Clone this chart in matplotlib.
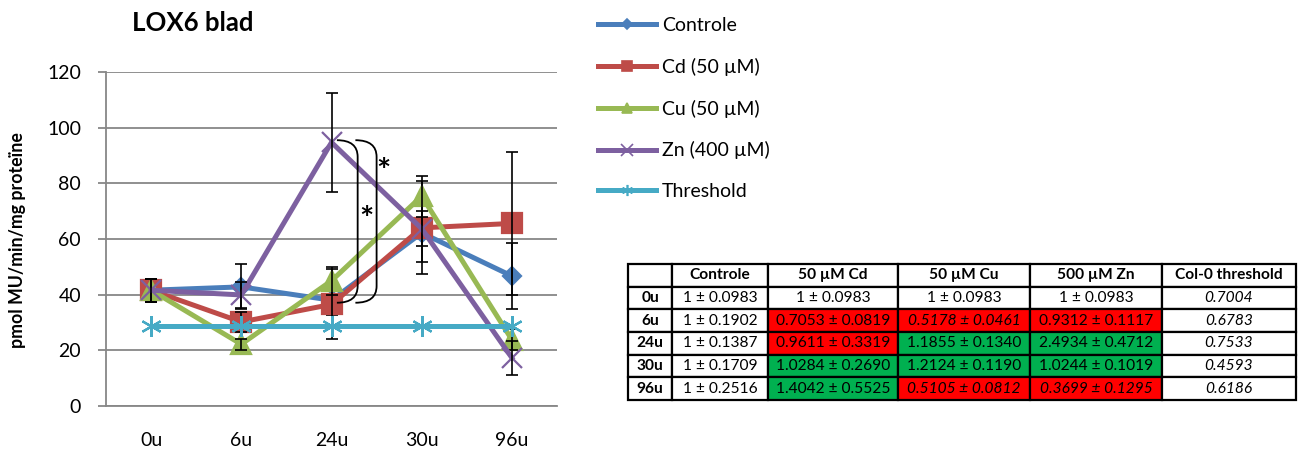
import matplotlib.pyplot as plt
from matplotlib.path import Path
from matplotlib.patches import PathPatch
from matplotlib.lines import Line2D

plt.rcParams['font.family'] = ['Lato', 'DejaVu Sans']

# LOX6 activiteit in blad (pmol MU/min/mg proteine)
tijden = ['0u', '6u', '24u', '30u', '96u']
controle = [41.6, 42.8, 38.0, 62.2, 46.7]
controle_err = [4.1, 8.1, 5.3, 10.6, 11.7]
cd = [41.6, 30.2, 36.5, 64.0, 65.6]
cd_err = [4.1, 3.5, 12.6, 16.7, 25.8]
cu = [41.6, 22.2, 45.0, 75.4, 23.8]
cu_err = [4.1, 2.0, 5.1, 7.4, 3.8]
zn = [41.6, 39.9, 94.7, 63.7, 17.3]
zn_err = [4.1, 4.8, 17.9, 6.3, 6.0]
threshold = [28.8, 28.8, 28.8, 28.8, 28.8]

# relatieve expressie t.o.v. controle
tabel_kop = ['', 'Controle', '50 µM Cd', '50 µM Cu', '500 µM Zn', 'Col-0 threshold']
tabel_controle = ['1 ± 0.0983', '1 ± 0.1902', '1 ± 0.1387', '1 ± 0.1709', '1 ± 0.2516']
tabel_cd = ['1 ± 0.0983', '0.7053 ± 0.0819', '0.9611 ± 0.3319', '1.0284 ± 0.2690', '1.4042 ± 0.5525']
tabel_cu = ['1 ± 0.0983', '0.5178 ± 0.0461', '1.1855 ± 0.1340', '1.2124 ± 0.1190', '0.5105 ± 0.0812']
tabel_zn = ['1 ± 0.0983', '0.9312 ± 0.1117', '2.4934 ± 0.4712', '1.0244 ± 0.1019', '0.3699 ± 0.1295']
tabel_threshold = ['0.7004', '0.6783', '0.7533', '0.4593', '0.6186']
# + = hoger, - = lager, 0 = niet getest; i = onder threshold (cursief)
status_cd = ['0', '-', '-', '+', '+']
status_cu = ['0', '-i', '+', '+', '-i']
status_zn = ['0', '-', '+', '+', '-i']

fig = plt.figure(figsize=(13.04, 4.54), dpi=100)
ax = fig.add_axes([106 / 1304, 48 / 454, 451 / 1304, 334 / 454])

x = list(range(len(tijden)))
series = [
    ('Controle', controle, controle_err, '#4A7EBB', 'D', 9.5),
    ('Cd (50 µM)', cd, cd_err, '#BE4B48', 's', 14),
    ('Cu (50 µM)', cu, cu_err, '#98B954', '^', 14),
    ('Zn (400 µM)', zn, zn_err, '#7D60A0', 'x', 15),
]
handles = []
z = 3
for naam, waarden, fout, kleur, marker, ms in series:
    ax.plot(x, waarden, color=kleur, lw=3.6, marker=marker, ms=ms,
            mfc=kleur, mec=kleur, mew=1.6, zorder=z)
    ax.errorbar(x, waarden, yerr=fout, fmt='none', ecolor='black',
                elinewidth=1.2, capsize=4, capthick=1.2, zorder=z + 0.5)
    handles.append(Line2D([], [], color=kleur, lw=3.6, marker=marker,
                          ms=ms * 0.55, mfc=kleur, mec=kleur, mew=1.2))
    z += 1
ax.plot(x, threshold, color='#46AAC5', lw=3.6, marker=(6, 2, 0), ms=15,
        mec='#46AAC5', mew=1.6, zorder=z)
handles.append(Line2D([], [], color='#46AAC5', lw=3.6, marker=(6, 2, 0),
                      ms=8, mec='#46AAC5', mew=1.2))

# significantie-accolades bij 24u
def accolade(x0, x1, ytop, ybot, r):
    verts = [(x0, ytop), (x1, ytop), (x1, ytop - r),
             (x1, ybot + r), (x1, ybot), (x0, ybot)]
    codes = [Path.MOVETO, Path.CURVE3, Path.CURVE3,
             Path.LINETO, Path.CURVE3, Path.CURVE3]
    ax.add_patch(PathPatch(Path(verts, codes), fill=False, lw=1.3,
                           ec='black', zorder=10))

accolade(2.06, 2.29, 95.5, 37.1, 6)
accolade(2.265, 2.50, 95.5, 37.1, 6)
ax.text(2.387, 66.5, '*', fontsize=24, fontweight='bold', ha='center', va='center', zorder=10)
ax.text(2.578, 84.0, '*', fontsize=24, fontweight='bold', ha='center', va='center', zorder=10)

ax.set_xlim(-0.5, 4.5)
ax.set_ylim(0, 120)
ax.set_yticks(range(0, 121, 20))
ax.set_xticks(x)
ax.set_xticklabels(tijden)
ax.yaxis.grid(True, color='#878787', lw=1.3)
ax.set_axisbelow(True)
for s in ['top', 'right']:
    ax.spines[s].set_visible(False)
ax.spines['left'].set_color('#878787')
ax.spines['left'].set_linewidth(1.3)
ax.spines['bottom'].set_color('#878787')
ax.spines['bottom'].set_linewidth(1.3)
ax.tick_params(axis='y', length=6, width=1.3, color='#878787', pad=12, labelsize=14)
ax.tick_params(axis='x', length=0, pad=19, labelsize=14)

fig.text(193 / 1304, 1 - 23 / 454, 'LOX6 blad', fontsize=18.5, fontweight='bold',
         ha='center', va='center')
fig.text(18 / 1304, 1 - 240 / 454, 'pmol MU/min/mg proteïne', fontsize=12.8,
         fontweight='bold', rotation=90, ha='center', va='center')

fig.legend(handles, [s[0] for s in series] + ['Threshold'], loc='upper left',
           bbox_to_anchor=(598 / 1304, 1 - 17 / 454), frameon=False, fontsize=14,
           handlelength=3.0, handletextpad=0.3, labelspacing=1.22,
           borderpad=0, borderaxespad=0)

# tabel
kleuren = {'0': 'white', '+': '#00B050', '-': '#FF0000'}
rijen = [tabel_kop]
cel_kleur = [['white'] * 6]
for i, t in enumerate(tijden):
    rijen.append([t, tabel_controle[i], tabel_cd[i], tabel_cu[i], tabel_zn[i], tabel_threshold[i]])
    cel_kleur.append(['white', 'white', kleuren[status_cd[i][0]],
                      kleuren[status_cu[i][0]], kleuren[status_zn[i][0]], 'white'])

tax = fig.add_axes([628 / 1304, 54 / 454, 668 / 1304, 136 / 454])
tax.axis('off')
breedtes = [44, 96, 130, 132, 132, 134]
tab = tax.table(cellText=rijen, cellColours=cel_kleur, cellLoc='center',
                colWidths=[b / sum(breedtes) for b in breedtes], bbox=[0, 0, 1, 1])
tab.auto_set_font_size(False)
tab.set_fontsize(11.2)
for (r, c), cel in tab.get_celld().items():
    cel.set_edgecolor('black')
    cel.set_linewidth(1.6)
    tekst = cel.get_text()
    if r == 0 or c == 0:
        tekst.set_fontweight('bold')
    if r > 0 and c == 5:
        tekst.set_style('italic')
    if r > 0 and c in (2, 3, 4):
        st = [status_cd, status_cu, status_zn][c - 2][r - 1]
        if 'i' in st:
            tekst.set_style('italic')

fig.savefig('out.png', dpi=100)
